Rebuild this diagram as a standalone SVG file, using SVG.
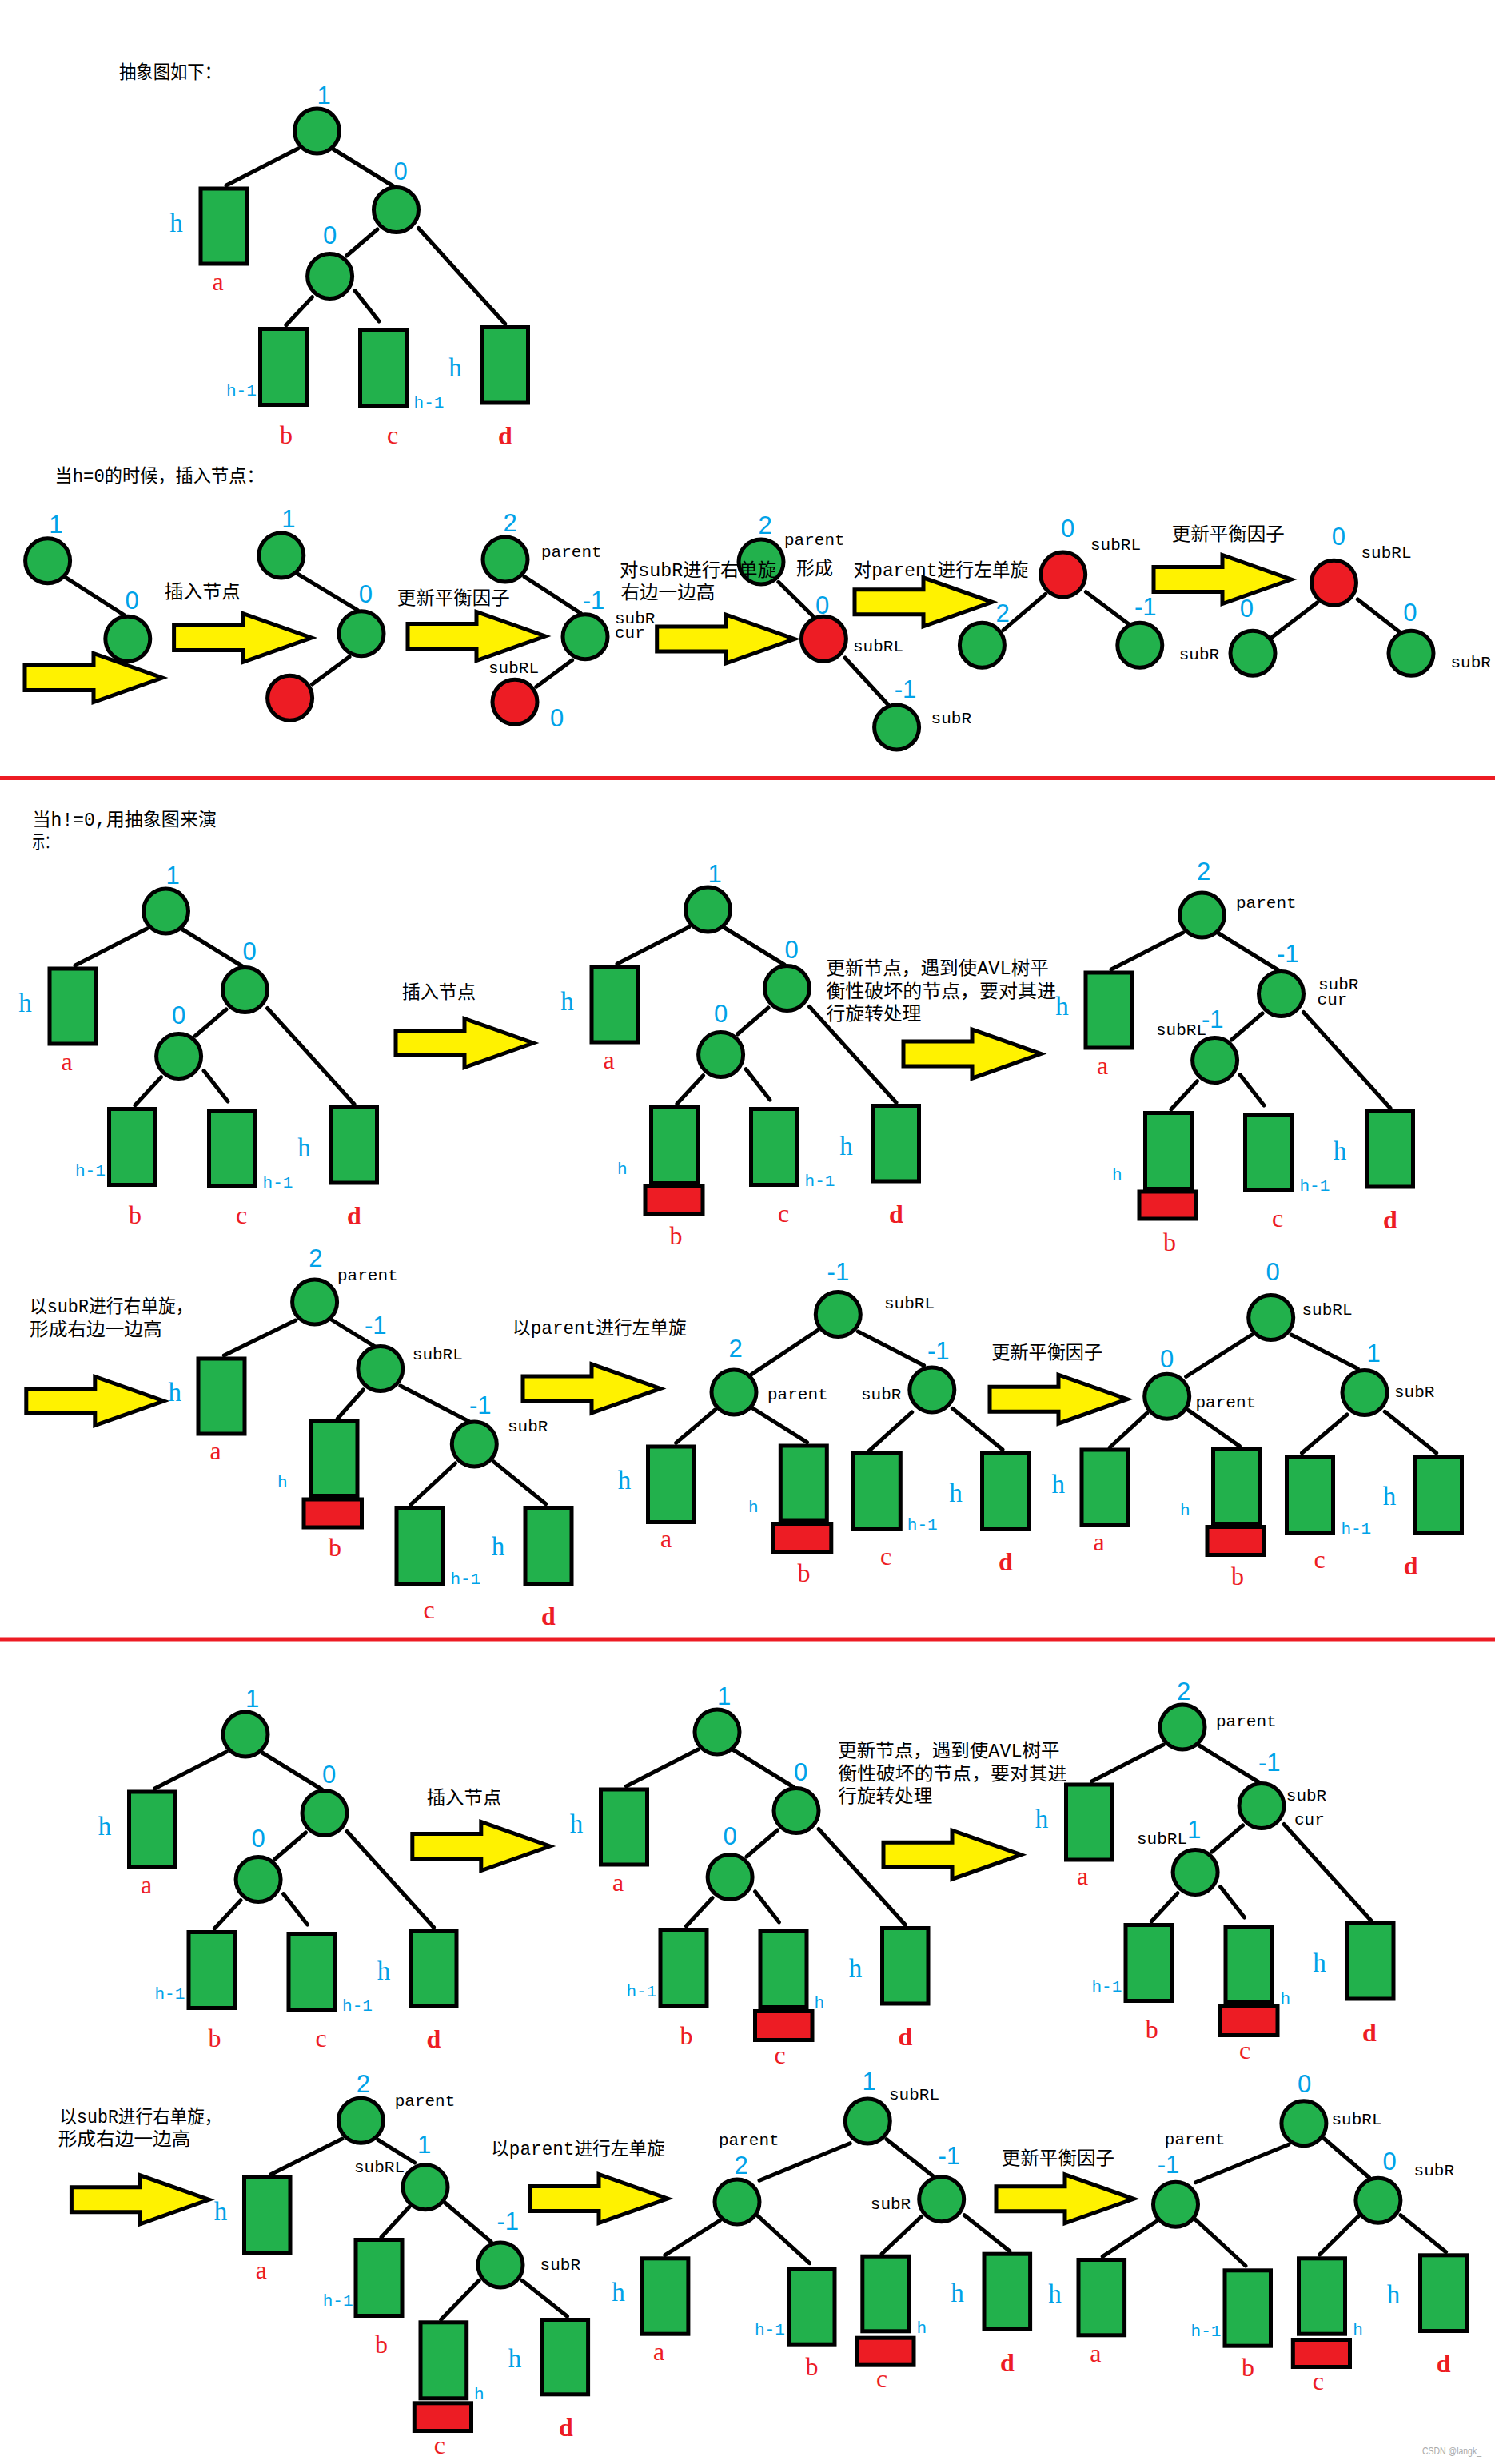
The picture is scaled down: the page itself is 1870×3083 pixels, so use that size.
<svg xmlns="http://www.w3.org/2000/svg" xmlns:xlink="http://www.w3.org/1999/xlink" width="1870" height="3083" viewBox="0 0 1870 3083">
<style>
.nd{fill:#22B14C;stroke:#000;stroke-width:5}
.nr{fill:#ED1C24;stroke:#000;stroke-width:5}
.bx{fill:#22B14C;stroke:#000;stroke-width:5}
.rb{fill:#ED1C24;stroke:#000;stroke-width:5}
.ed line{stroke:#000;stroke-width:5;stroke-linecap:round}
.ar{fill:#FFF200;stroke:#000;stroke-width:5}
.num{font-family:"Liberation Sans",sans-serif;font-size:31px;fill:#00A2E8;text-anchor:middle}
.nums{font-family:"Liberation Sans",sans-serif;font-size:31px;fill:#00A2E8}
.hb{font-family:"Liberation Serif",serif;font-size:33px;fill:#00A2E8;text-anchor:middle}
.hs{font-family:"Liberation Mono",monospace;font-size:21px;fill:#00A2E8}
.lt{font-family:"Liberation Serif",serif;font-size:32px;fill:#ED1C24;text-anchor:middle}
.ld{font-family:"Liberation Serif",serif;font-size:32px;font-weight:bold;fill:#ED1C24;text-anchor:middle}
.lb{font-family:"Liberation Mono",monospace;font-size:21px;fill:#000}
.cn{font-family:"Liberation Mono","Noto Sans CJK SC",monospace;font-size:23px;fill:#000}
.wm{font-family:"Liberation Sans",sans-serif;font-size:12px;fill:#aaa}
</style>
<defs>
<path id="arrow" class="ar" d="M0,-15.5 H86 V-30.5 L172,0 L86,30.5 V15.5 H0 Z"/>
</defs>
<rect width="1870" height="3083" fill="#fff"/>

<!-- separators -->
<g id="separators">
<rect x="0" y="971" width="1870" height="5" fill="#ED1C24"/>
<rect x="0" y="2048.5" width="1870" height="5" fill="#ED1C24"/>
</g>

<!-- ================= CONNECTORS ================= -->
<g id="connectors" class="ed">
 <g id="e-s1" transform="translate(0,0)">
  <line x1="372.7" y1="186" x2="283" y2="232"/><line x1="417.4" y1="187" x2="492" y2="233"/><line x1="472" y1="287" x2="433.5" y2="320"/><line x1="523.5" y1="285.5" x2="632" y2="405.5"/><line x1="390.6" y1="371.6" x2="357.8" y2="407"/><line x1="444" y1="363.6" x2="474" y2="402"/>
 </g>
 <g id="e-s3t1" transform="translate(-189,976)">
  <line x1="372.7" y1="186" x2="283" y2="232"/><line x1="417.4" y1="187" x2="492" y2="233"/><line x1="472" y1="287" x2="433.5" y2="320"/><line x1="523.5" y1="285.5" x2="632" y2="405.5"/><line x1="390.6" y1="371.6" x2="357.8" y2="407"/><line x1="444" y1="363.6" x2="474" y2="402"/>
 </g>
 <g id="e-s3t2" transform="translate(489,974)">
  <line x1="372.7" y1="186" x2="283" y2="232"/><line x1="417.4" y1="187" x2="492" y2="233"/><line x1="472" y1="287" x2="433.5" y2="320"/><line x1="523.5" y1="285.5" x2="632" y2="405.5"/><line x1="390.6" y1="371.6" x2="357.8" y2="407"/><line x1="444" y1="363.6" x2="474" y2="402"/>
 </g>
 <g id="e-s3t3" transform="translate(1107,981)">
  <line x1="372.7" y1="186" x2="283" y2="232"/><line x1="417.4" y1="187" x2="492" y2="233"/><line x1="472" y1="287" x2="433.5" y2="320"/><line x1="523.5" y1="285.5" x2="632" y2="405.5"/><line x1="390.6" y1="371.6" x2="357.8" y2="407"/><line x1="444" y1="363.6" x2="474" y2="402"/>
 </g>
 <g id="e-s4t1" transform="translate(-89.5,2006)">
  <line x1="372.7" y1="186" x2="283" y2="232"/><line x1="417.4" y1="187" x2="492" y2="233"/><line x1="472" y1="287" x2="433.5" y2="320"/><line x1="523.5" y1="285.5" x2="632" y2="405.5"/><line x1="390.6" y1="371.6" x2="357.8" y2="407"/><line x1="444" y1="363.6" x2="474" y2="402"/>
 </g>
 <g id="e-s4t2" transform="translate(500.5,2003)">
  <line x1="372.7" y1="186" x2="283" y2="232"/><line x1="417.4" y1="187" x2="492" y2="233"/><line x1="472" y1="287" x2="433.5" y2="320"/><line x1="523.5" y1="285.5" x2="632" y2="405.5"/><line x1="390.6" y1="371.6" x2="357.8" y2="407"/><line x1="444" y1="363.6" x2="474" y2="402"/>
 </g>
 <g id="e-s4t3" transform="translate(1082.5,1997)">
  <line x1="372.7" y1="186" x2="283" y2="232"/><line x1="417.4" y1="187" x2="492" y2="233"/><line x1="472" y1="287" x2="433.5" y2="320"/><line x1="523.5" y1="285.5" x2="632" y2="405.5"/><line x1="390.6" y1="371.6" x2="357.8" y2="407"/><line x1="444" y1="363.6" x2="474" y2="402"/>
 </g>
 <g id="e-s2">
  <line x1="80.5" y1="721.7" x2="156" y2="770"/>
  <line x1="372.7" y1="718.3" x2="447.2" y2="763.3"/><line x1="437" y1="821.7" x2="390.6" y2="856"/>
  <line x1="656" y1="721.7" x2="726.3" y2="767.3"/><line x1="715.6" y1="826" x2="670.8" y2="859.3"/>
  <line x1="973.8" y1="728.3" x2="1016.7" y2="770.7"/><line x1="1057" y1="823" x2="1111" y2="881.7"/>
  <line x1="1307.7" y1="743.3" x2="1255" y2="788.3"/><line x1="1358.4" y1="740.7" x2="1415" y2="783.3"/>
  <line x1="1647.6" y1="754" x2="1591" y2="797.3"/><line x1="1698.3" y1="750" x2="1752" y2="791.7"/>
 </g>
 <g id="e-s3t4">
  <line x1="369.7" y1="1652" x2="280.3" y2="1696"/><line x1="414.4" y1="1651" x2="468" y2="1684.3"/><line x1="454.4" y1="1739" x2="422.2" y2="1775"/><line x1="500.9" y1="1734" x2="587.4" y2="1778.9"/><line x1="569.5" y1="1831" x2="514" y2="1882.3"/><line x1="617.2" y1="1828.6" x2="682.8" y2="1881.7"/>
 </g>
 <g id="e-s3t5">
  <line x1="1023" y1="1664.4" x2="939.8" y2="1719.8"/><line x1="1073.3" y1="1666" x2="1155.6" y2="1708.5"/><line x1="894.5" y1="1764" x2="845.6" y2="1805.4"/><line x1="942" y1="1762.3" x2="1009.5" y2="1804.7"/><line x1="1140.7" y1="1767" x2="1087" y2="1815.3"/><line x1="1191.4" y1="1762.3" x2="1254" y2="1813.7"/>
 </g>
 <g id="e-s3t6">
  <line x1="1566" y1="1670" x2="1483.6" y2="1722.5"/><line x1="1615" y1="1670" x2="1698.3" y2="1712.5"/><line x1="1434.7" y1="1768.2" x2="1388.2" y2="1811"/><line x1="1486.6" y1="1764.6" x2="1550.4" y2="1809.4"/><line x1="1685" y1="1770" x2="1628.5" y2="1818"/><line x1="1732.3" y1="1766.3" x2="1796.7" y2="1818"/>
 </g>
 <g id="e-s4t4">
  <line x1="428" y1="2676" x2="338.7" y2="2720.7"/><line x1="472.9" y1="2677.3" x2="518.8" y2="2706"/><line x1="511.6" y1="2761.7" x2="477" y2="2799.3"/><line x1="556.4" y1="2756" x2="614.2" y2="2805"/><line x1="599.3" y1="2853.3" x2="551.6" y2="2902.3"/><line x1="653" y1="2853.3" x2="709.6" y2="2898.3"/>
 </g>
 <g id="e-s4t5">
  <line x1="1063.2" y1="2681.7" x2="950" y2="2728.3"/><line x1="1109" y1="2676.7" x2="1167.6" y2="2723.3"/><line x1="900.4" y1="2778.3" x2="831.8" y2="2821.7"/><line x1="948" y1="2772.7" x2="1012.5" y2="2831.7"/><line x1="1152.6" y1="2773.3" x2="1103" y2="2820"/><line x1="1206.3" y1="2771.7" x2="1263" y2="2816.7"/>
 </g>
 <g id="e-s4t6">
  <line x1="1611.8" y1="2683.3" x2="1495.5" y2="2730.7"/><line x1="1656.5" y1="2676" x2="1713" y2="2725"/><line x1="1446.6" y1="2779.3" x2="1379.2" y2="2823.3"/><line x1="1495.5" y1="2777.3" x2="1558" y2="2835"/><line x1="1699.5" y1="2772.7" x2="1650.6" y2="2821"/><line x1="1752" y1="2771.7" x2="1808.6" y2="2817.7"/>
 </g>
</g>

<!-- ================= SECTION 1 ================= -->
<text class="cn" x="149" y="98" textLength="128" lengthAdjust="spacingAndGlyphs">抽象图如下：</text>
<g id="s1" transform="translate(0,0)">
 <g id="s1-root"><circle class="nd" cx="396.5" cy="164" r="28"/></g>
 <g id="s1-right"><circle class="nd" cx="495.5" cy="262.5" r="28"/></g>
 <g id="s1-rl"><circle class="nd" cx="412.6" cy="345.5" r="28"/></g>
 <g id="s1-a"><rect class="bx" x="251" y="236" width="58" height="94"/></g>
 <g id="s1-b"><rect class="bx" x="325.5" y="411.5" width="58" height="95"/></g>
 <g id="s1-c"><rect class="bx" x="450.5" y="413.5" width="58" height="95"/></g>
 <g id="s1-d"><rect class="bx" x="603" y="409.5" width="57.5" height="94.5"/></g>
 <text class="num" x="405" y="130">1</text><text class="num" x="501" y="225">0</text><text class="num" x="412.6" y="305">0</text>
 <text class="hb" x="220.6" y="290">h</text><text class="lt" x="272.5" y="362.5">a</text>
 <text class="hs" x="283" y="495">h-1</text><text class="hs" x="517.6" y="510">h-1</text><text class="hb" x="569.5" y="471">h</text>
 <text class="lt" x="358" y="554.5">b</text><text class="lt" x="491" y="554.5">c</text><text class="ld" x="632" y="556">d</text>
</g>

<!-- ================= SECTION 2 ================= -->
<text class="cn" x="68.6" y="603" textLength="262" lengthAdjust="spacingAndGlyphs">当h=0的时候，插入节点：</text>
<g id="s2">
 <g id="s2A-n1"><circle class="nd" cx="59.6" cy="701.7" r="28"/></g>
 <g id="s2A-n2"><circle class="nd" cx="159.8" cy="799.3" r="28"/></g>
 <g id="s2B-n1"><circle class="nd" cx="351.8" cy="695" r="28"/></g>
 <g id="s2B-n2"><circle class="nd" cx="452" cy="792.7" r="28"/></g>
 <g id="s2B-n3"><circle class="nr" cx="362.6" cy="873.3" r="28"/></g>
 <g id="s2C-parent"><circle class="nd" cx="632" cy="700" r="28"/></g>
 <g id="s2C-subR"><circle class="nd" cx="732" cy="796.7" r="28"/></g>
 <g id="s2C-subRL"><circle class="nr" cx="644" cy="878.3" r="28"/></g>
 <g id="s2D-parent"><circle class="nd" cx="952" cy="703" r="28"/></g>
 <g id="s2D-subRL"><circle class="nr" cx="1030.4" cy="799.3" r="28"/></g>
 <g id="s2D-subR"><circle class="nd" cx="1121.6" cy="910" r="28"/></g>
 <g id="s2E-subRL"><circle class="nr" cx="1329.7" cy="719" r="28"/></g>
 <g id="s2E-left"><circle class="nd" cx="1228.4" cy="807.3" r="28"/></g>
 <g id="s2E-right"><circle class="nd" cx="1425.8" cy="807.3" r="28"/></g>
 <g id="s2F-subRL"><circle class="nr" cx="1668.5" cy="729.3" r="28"/></g>
 <g id="s2F-left"><circle class="nd" cx="1567" cy="817.3" r="28"/></g>
 <g id="s2F-right"><circle class="nd" cx="1765" cy="817.3" r="28"/></g>
</g>

<!-- ================= SECTION 3 ================= -->
<text class="cn" x="40.5" y="1033" textLength="230.5" lengthAdjust="spacingAndGlyphs">当h!=0,用抽象图来演</text>
<text class="cn" x="40.5" y="1060.5" textLength="31" lengthAdjust="spacingAndGlyphs">示：</text>

<g id="s3t1" transform="translate(-189,976)">
 <g id="s3t1-root"><circle class="nd" cx="396.5" cy="164" r="28"/></g>
 <g id="s3t1-right"><circle class="nd" cx="495.5" cy="262.5" r="28"/></g>
 <g id="s3t1-rl"><circle class="nd" cx="412.6" cy="345.5" r="28"/></g>
 <g id="s3t1-a"><rect class="bx" x="251" y="236" width="58" height="94"/></g>
 <g id="s3t1-b"><rect class="bx" x="325.5" y="411.5" width="58" height="95"/></g>
 <g id="s3t1-c"><rect class="bx" x="450.5" y="413.5" width="58" height="95"/></g>
 <g id="s3t1-d"><rect class="bx" x="603" y="409.5" width="57.5" height="94.5"/></g>
 <text class="num" x="405" y="130">1</text><text class="num" x="501" y="225">0</text><text class="num" x="412.6" y="305">0</text>
 <text class="hb" x="220.6" y="290">h</text><text class="lt" x="272.5" y="362.5">a</text>
 <text class="hs" x="283" y="495">h-1</text><text class="hs" x="517.6" y="510">h-1</text><text class="hb" x="569.5" y="471">h</text>
 <text class="lt" x="358" y="554.5">b</text><text class="lt" x="491" y="554.5">c</text><text class="ld" x="632" y="556">d</text>
</g>

<g id="s3t2" transform="translate(489,974)">
 <g id="s3t2-root"><circle class="nd" cx="396.5" cy="164" r="28"/></g>
 <g id="s3t2-right"><circle class="nd" cx="495.5" cy="262.5" r="28"/></g>
 <g id="s3t2-rl"><circle class="nd" cx="412.6" cy="345.5" r="28"/></g>
 <g id="s3t2-a"><rect class="bx" x="251" y="236" width="58" height="94"/></g>
 <g id="s3t2-b"><rect class="bx" x="325.5" y="411.5" width="58" height="95"/></g>
 <g id="s3t2-new"><rect class="rb" x="318" y="510.5" width="72" height="34"/></g>
 <g id="s3t2-c"><rect class="bx" x="450.5" y="413.5" width="58" height="95"/></g>
 <g id="s3t2-d"><rect class="bx" x="603" y="409.5" width="57.5" height="94.5"/></g>
 <text class="num" x="405" y="130">1</text><text class="num" x="501" y="225">0</text><text class="num" x="412.6" y="305">0</text>
 <text class="hb" x="220.6" y="290">h</text><text class="lt" x="272.5" y="362.5">a</text>
 <text class="hs" x="283" y="494.6">h</text><text class="hs" x="517.6" y="510">h-1</text><text class="hb" x="569.5" y="471">h</text>
 <text class="lt" x="356.5" y="583">b</text><text class="lt" x="491" y="554.5">c</text><text class="ld" x="632" y="556">d</text>
</g>

<g id="s3t3" transform="translate(1107,981)">
 <g id="s3t3-parent"><circle class="nd" cx="396.5" cy="164" r="28"/></g>
 <g id="s3t3-subR"><circle class="nd" cx="495.5" cy="262.5" r="28"/></g>
 <g id="s3t3-subRL"><circle class="nd" cx="412.6" cy="345.5" r="28"/></g>
 <g id="s3t3-a"><rect class="bx" x="251" y="236" width="58" height="94"/></g>
 <g id="s3t3-b"><rect class="bx" x="325.5" y="411.5" width="58" height="95"/></g>
 <g id="s3t3-new"><rect class="rb" x="318" y="510" width="71" height="34"/></g>
 <g id="s3t3-c"><rect class="bx" x="450.5" y="413.5" width="58" height="95"/></g>
 <g id="s3t3-d"><rect class="bx" x="603" y="409.5" width="57.5" height="94.5"/></g>
 <text class="num" x="398.7" y="120.4">2</text>
 <text class="lb" x="439" y="155.4">parent</text>
 <text class="nums" x="490" y="223">-1</text>
 <text class="lb" x="542" y="257">subR</text><text class="lb" x="540.6" y="276">cur</text>
 <text class="lb" x="339" y="314.4">subRL</text><text class="nums" x="396" y="305.4">-1</text>
 <text class="hb" x="221.6" y="289">h</text><text class="lt" x="272" y="362.6">a</text>
 <text class="hs" x="284" y="494.7">h</text><text class="hs" x="518.5" y="509">h-1</text><text class="hb" x="569" y="470.4">h</text>
 <text class="lt" x="356" y="584">b</text><text class="lt" x="491" y="554">c</text><text class="ld" x="631.8" y="556">d</text>
</g>

<g id="s3t4">
 <g id="s3t4-parent"><circle class="nd" cx="393.6" cy="1629" r="28"/></g>
 <g id="s3t4-subRL"><circle class="nd" cx="475.8" cy="1712.5" r="28"/></g>
 <g id="s3t4-subR"><circle class="nd" cx="593.3" cy="1807" r="28"/></g>
 <g id="s3t4-a"><rect class="bx" x="248" y="1700" width="58" height="94"/></g>
 <g id="s3t4-b"><rect class="bx" x="389" y="1778.5" width="58" height="93"/></g>
 <g id="s3t4-new"><rect class="rb" x="380" y="1876" width="72.5" height="35"/></g>
 <g id="s3t4-c"><rect class="bx" x="496" y="1886.5" width="58" height="95"/></g>
 <g id="s3t4-d"><rect class="bx" x="657" y="1886.5" width="58" height="95"/></g>
 <text class="num" x="394.8" y="1584.8">2</text><text class="lb" x="422" y="1602">parent</text>
 <text class="nums" x="456" y="1669.4">-1</text><text class="lb" x="515.8" y="1701">subRL</text>
 <text class="nums" x="587" y="1769">-1</text><text class="lb" x="635" y="1790.5">subR</text>
 <text class="hb" x="218.8" y="1753">h</text><text class="lt" x="269.5" y="1826">a</text>
 <text class="hs" x="347" y="1861">h</text><text class="lt" x="419" y="1947">b</text>
 <text class="hs" x="563.5" y="1982">h-1</text><text class="lt" x="536.7" y="2025.3">c</text>
 <text class="hb" x="623" y="1946">h</text><text class="ld" x="685.8" y="2032.6">d</text>
</g>

<g id="s3t5">
 <g id="s3t5-subRL"><circle class="nd" cx="1048.3" cy="1644.5" r="28"/></g>
 <g id="s3t5-parent"><circle class="nd" cx="918" cy="1742" r="28"/></g>
 <g id="s3t5-subR"><circle class="nd" cx="1165.8" cy="1739" r="28"/></g>
 <g id="s3t5-a"><rect class="bx" x="810.5" y="1810" width="58" height="94.5"/></g>
 <g id="s3t5-b"><rect class="bx" x="976.3" y="1809" width="58" height="93"/></g>
 <g id="s3t5-new"><rect class="rb" x="967.3" y="1906.5" width="72.5" height="35.7"/></g>
 <g id="s3t5-c"><rect class="bx" x="1067.5" y="1818.5" width="58.8" height="95"/></g>
 <g id="s3t5-d"><rect class="bx" x="1228.5" y="1818.5" width="59" height="95"/></g>
 <text class="nums" x="1034.6" y="1602">-1</text><text class="lb" x="1106" y="1637">subRL</text>
 <text class="num" x="920" y="1697.6">2</text><text class="lb" x="960" y="1750.7">parent</text>
 <text class="nums" x="1160" y="1701">-1</text><text class="lb" x="1077" y="1750.7">subR</text>
 <text class="hb" x="781" y="1863.4">h</text><text class="lt" x="833" y="1936.4">a</text>
 <text class="hs" x="936" y="1891.6">h</text><text class="lt" x="1005.4" y="1978.5">b</text>
 <text class="hs" x="1134.8" y="1914">h-1</text><text class="lt" x="1108" y="1958">c</text>
 <text class="hb" x="1195.6" y="1879">h</text><text class="ld" x="1258" y="1965">d</text>
</g>

<g id="s3t6">
 <g id="s3t6-subRL"><circle class="nd" cx="1589.7" cy="1648.5" r="28"/></g>
 <g id="s3t6-parent"><circle class="nd" cx="1459.7" cy="1747.3" r="28"/></g>
 <g id="s3t6-subR"><circle class="nd" cx="1707" cy="1742.4" r="28"/></g>
 <g id="s3t6-a"><rect class="bx" x="1353" y="1814" width="58" height="94.5"/></g>
 <g id="s3t6-b"><rect class="bx" x="1517.5" y="1813.5" width="58" height="93"/></g>
 <g id="s3t6-new"><rect class="rb" x="1510" y="1910.5" width="71.3" height="35"/></g>
 <g id="s3t6-c"><rect class="bx" x="1609.5" y="1822.8" width="58" height="94.7"/></g>
 <g id="s3t6-d"><rect class="bx" x="1770.5" y="1822.5" width="58" height="95"/></g>
 <text class="num" x="1592" y="1602.4">0</text><text class="lb" x="1628.5" y="1644.5">subRL</text>
 <text class="num" x="1459.7" y="1710.9">0</text><text class="lb" x="1495.5" y="1760.6">parent</text>
 <text class="num" x="1718" y="1704">1</text><text class="lb" x="1744" y="1748">subR</text>
 <text class="hb" x="1323.8" y="1867.7">h</text><text class="lt" x="1374.5" y="1940.4">a</text>
 <text class="hs" x="1476" y="1895.6">h</text><text class="lt" x="1548" y="1982.8">b</text>
 <text class="hs" x="1677.4" y="1918.8">h-1</text><text class="lt" x="1650.6" y="1962">c</text>
 <text class="hb" x="1738" y="1883">h</text><text class="ld" x="1764.6" y="1969.6">d</text>
</g>

<!-- ================= SECTION 4 ================= -->
<g id="s4t1" transform="translate(-89.5,2006)">
 <g id="s4t1-root"><circle class="nd" cx="396.5" cy="164" r="28"/></g>
 <g id="s4t1-right"><circle class="nd" cx="495.5" cy="262.5" r="28"/></g>
 <g id="s4t1-rl"><circle class="nd" cx="412.6" cy="345.5" r="28"/></g>
 <g id="s4t1-a"><rect class="bx" x="251" y="236" width="58" height="94"/></g>
 <g id="s4t1-b"><rect class="bx" x="325.5" y="411.5" width="58" height="95"/></g>
 <g id="s4t1-c"><rect class="bx" x="450.5" y="413.5" width="58" height="95"/></g>
 <g id="s4t1-d"><rect class="bx" x="603" y="409.5" width="57.5" height="94.5"/></g>
 <text class="num" x="405" y="130">1</text><text class="num" x="501" y="225">0</text><text class="num" x="412.6" y="305">0</text>
 <text class="hb" x="220.6" y="290">h</text><text class="lt" x="272.5" y="362.5">a</text>
 <text class="hs" x="283" y="495">h-1</text><text class="hs" x="517.6" y="510">h-1</text><text class="hb" x="569.5" y="471">h</text>
 <text class="lt" x="358" y="554.5">b</text><text class="lt" x="491" y="554.5">c</text><text class="ld" x="632" y="556">d</text>
</g>

<g id="s4t2" transform="translate(500.5,2003)">
 <g id="s4t2-root"><circle class="nd" cx="396.5" cy="164" r="28"/></g>
 <g id="s4t2-right"><circle class="nd" cx="495.5" cy="262.5" r="28"/></g>
 <g id="s4t2-rl"><circle class="nd" cx="412.6" cy="345.5" r="28"/></g>
 <g id="s4t2-a"><rect class="bx" x="251" y="236" width="58" height="94"/></g>
 <g id="s4t2-b"><rect class="bx" x="325.5" y="411.5" width="58" height="95"/></g>
 <g id="s4t2-c"><rect class="bx" x="450.5" y="413.5" width="58" height="95"/></g>
 <g id="s4t2-new"><rect class="rb" x="444" y="513.5" width="71.5" height="36"/></g>
 <g id="s4t2-d"><rect class="bx" x="603" y="409.5" width="57.5" height="94.5"/></g>
 <text class="num" x="405" y="130">1</text><text class="num" x="501" y="225">0</text><text class="num" x="412.6" y="305">0</text>
 <text class="hb" x="220.6" y="290">h</text><text class="lt" x="272.5" y="362.5">a</text>
 <text class="hs" x="283" y="495">h-1</text><text class="hs" x="518" y="508.7">h</text><text class="hb" x="569.5" y="471">h</text>
 <text class="lt" x="358" y="554.5">b</text><text class="lt" x="475" y="578.7">c</text><text class="ld" x="632" y="556">d</text>
</g>

<g id="s4t3" transform="translate(1082.5,1997)">
 <g id="s4t3-parent"><circle class="nd" cx="396.5" cy="164" r="28"/></g>
 <g id="s4t3-subR"><circle class="nd" cx="495.5" cy="262.5" r="28"/></g>
 <g id="s4t3-subRL"><circle class="nd" cx="412.6" cy="345.5" r="28"/></g>
 <g id="s4t3-a"><rect class="bx" x="251" y="236" width="58" height="94"/></g>
 <g id="s4t3-b"><rect class="bx" x="325.5" y="411.5" width="58" height="95"/></g>
 <g id="s4t3-c"><rect class="bx" x="450.5" y="413.5" width="58" height="95"/></g>
 <g id="s4t3-new"><rect class="rb" x="444" y="513.5" width="71.5" height="36"/></g>
 <g id="s4t3-d"><rect class="bx" x="603" y="409.5" width="57.5" height="94.5"/></g>
 <text class="num" x="398" y="129.7">2</text><text class="lb" x="438.5" y="163">parent</text>
 <text class="nums" x="491.5" y="219">-1</text>
 <text class="lb" x="526.3" y="255.7">subR</text><text class="lb" x="536.5" y="285.7">cur</text>
 <text class="lb" x="339.5" y="310.3">subRL</text><text class="num" x="411.2" y="303">1</text>
 <text class="hb" x="220.5" y="289.7">h</text><text class="lt" x="271.5" y="361">a</text>
 <text class="hs" x="283" y="494.7">h-1</text><text class="hs" x="519" y="509.7">h</text><text class="hb" x="568" y="470.3">h</text>
 <text class="lt" x="358.2" y="553">b</text><text class="lt" x="474.5" y="579">c</text><text class="ld" x="630.5" y="557">d</text>
</g>

<g id="s4t4">
 <g id="s4t4-parent"><circle class="nd" cx="451.4" cy="2653.3" r="28"/></g>
 <g id="s4t4-subRL"><circle class="nd" cx="532" cy="2736.7" r="28"/></g>
 <g id="s4t4-subR"><circle class="nd" cx="626" cy="2834" r="28"/></g>
 <g id="s4t4-a"><rect class="bx" x="305.5" y="2724.2" width="57.5" height="95"/></g>
 <g id="s4t4-b"><rect class="bx" x="445" y="2802.5" width="58" height="95"/></g>
 <g id="s4t4-c"><rect class="bx" x="526" y="2905.8" width="57.7" height="95"/></g>
 <g id="s4t4-new"><rect class="rb" x="518.3" y="3006.8" width="71.2" height="34.7"/></g>
 <g id="s4t4-d"><rect class="bx" x="678" y="2902.5" width="57.6" height="93.3"/></g>
 <text class="num" x="454.4" y="2618.3">2</text><text class="lb" x="493.7" y="2635">parent</text>
 <text class="num" x="530.7" y="2694.3">1</text><text class="lb" x="443" y="2717.7">subRL</text>
 <text class="nums" x="621.4" y="2790">-1</text><text class="lb" x="675.6" y="2840">subR</text>
 <text class="hb" x="276" y="2777.7">h</text><text class="lt" x="326.8" y="2851">a</text>
 <text class="hs" x="403.7" y="2885">h-1</text><text class="lt" x="477" y="2944.3">b</text>
 <text class="hs" x="593" y="3001.7">h</text><text class="lt" x="549.8" y="3070">c</text>
 <text class="hb" x="644" y="2961.7">h</text><text class="ld" x="707.8" y="3048.3">d</text>
</g>

<g id="s4t5">
 <g id="s4t5-subRL"><circle class="nd" cx="1085.3" cy="2654" r="28"/></g>
 <g id="s4t5-parent"><circle class="nd" cx="922" cy="2755" r="28"/></g>
 <g id="s4t5-subR"><circle class="nd" cx="1177.7" cy="2751.7" r="28"/></g>
 <g id="s4t5-a"><rect class="bx" x="803.3" y="2825.8" width="57.6" height="94.4"/></g>
 <g id="s4t5-b"><rect class="bx" x="986.5" y="2839.2" width="57.5" height="94"/></g>
 <g id="s4t5-c"><rect class="bx" x="1078.8" y="2823.2" width="58.2" height="93.6"/></g>
 <g id="s4t5-new"><rect class="rb" x="1071.5" y="2925.2" width="71.5" height="34"/></g>
 <g id="s4t5-d"><rect class="bx" x="1231" y="2820.2" width="57.6" height="94"/></g>
 <text class="num" x="1087" y="2615">1</text><text class="lb" x="1112" y="2627.3">subRL</text>
 <text class="num" x="927" y="2720">2</text><text class="lb" x="899" y="2684">parent</text>
 <text class="nums" x="1173.5" y="2708.3">-1</text><text class="lb" x="1088.8" y="2764">subR</text>
 <text class="hb" x="773.4" y="2879.3">h</text><text class="lt" x="824" y="2953.3">a</text>
 <text class="hs" x="944" y="2921">h-1</text><text class="lt" x="1015.5" y="2971.7">b</text>
 <text class="hs" x="1146.6" y="2919.3">h</text><text class="lt" x="1103" y="2987.3">c</text>
 <text class="hb" x="1197.4" y="2880">h</text><text class="ld" x="1260" y="2966.7">d</text>
</g>

<g id="s4t6">
 <g id="s4t6-subRL"><circle class="nd" cx="1630.9" cy="2656.7" r="28"/></g>
 <g id="s4t6-parent"><circle class="nd" cx="1470.5" cy="2758.3" r="28"/></g>
 <g id="s4t6-subR"><circle class="nd" cx="1723.9" cy="2753.3" r="28"/></g>
 <g id="s4t6-a"><rect class="bx" x="1349" y="2827.5" width="57.6" height="94.3"/></g>
 <g id="s4t6-b"><rect class="bx" x="1532" y="2840.8" width="57.5" height="94.4"/></g>
 <g id="s4t6-c"><rect class="bx" x="1624.5" y="2825.8" width="58" height="94.4"/></g>
 <g id="s4t6-new"><rect class="rb" x="1617.3" y="2927.5" width="71.2" height="34"/></g>
 <g id="s4t6-d"><rect class="bx" x="1776.5" y="2821.8" width="58" height="94.7"/></g>
 <text class="num" x="1631.5" y="2618.3">0</text><text class="lb" x="1665.5" y="2658.3">subRL</text>
 <text class="nums" x="1447.8" y="2719.3">-1</text><text class="lb" x="1456.8" y="2683.3">parent</text>
 <text class="num" x="1738.2" y="2715">0</text><text class="lb" x="1768.6" y="2721.7">subR</text>
 <text class="hb" x="1319.6" y="2880.7">h</text><text class="lt" x="1370.3" y="2955">a</text>
 <text class="hs" x="1489.6" y="2923.3">h-1</text><text class="lt" x="1561" y="2973.3">b</text>
 <text class="hs" x="1692.3" y="2920.7">h</text><text class="lt" x="1648.8" y="2990">c</text>
 <text class="hb" x="1743" y="2882.3">h</text><text class="ld" x="1805.6" y="2968.3">d</text>
</g>

<!-- ================= ARROWS ================= -->
<g id="arrows">
 <use xlink:href="#arrow" transform="translate(31,848)"/>
 <use xlink:href="#arrow" transform="translate(217.6,798)"/>
 <use xlink:href="#arrow" transform="translate(510,796)"/>
 <use xlink:href="#arrow" transform="translate(821.7,799.5)"/>
 <use xlink:href="#arrow" transform="translate(1069,753.3)"/>
 <use xlink:href="#arrow" transform="translate(1443,725)"/>
 <use xlink:href="#arrow" transform="translate(495,1305)"/>
 <use xlink:href="#arrow" transform="translate(1130,1318.6)"/>
 <use xlink:href="#arrow" transform="translate(32.8,1753)"/>
 <use xlink:href="#arrow" transform="translate(654,1737.4)"/>
 <use xlink:href="#arrow" transform="translate(1238,1750.7)"/>
 <use xlink:href="#arrow" transform="translate(515.8,2310)"/>
 <use xlink:href="#arrow" transform="translate(1105,2320.7)"/>
 <use xlink:href="#arrow" transform="translate(89.4,2752.3)"/>
 <use xlink:href="#arrow" transform="translate(663,2751)"/>
 <use xlink:href="#arrow" transform="translate(1246,2751.3)"/>
</g>

<!-- ================= SECTION 2 LABELS ================= -->
<g id="s2-labels">
 <text class="num" x="69.8" y="666.7">1</text><text class="num" x="165" y="761.7">0</text>
 <text class="num" x="360.8" y="660">1</text><text class="num" x="457.4" y="754">0</text>
 <text class="num" x="638" y="665">2</text><text class="lb" x="677" y="697">parent</text>
 <text class="nums" x="728.7" y="762">-1</text><text class="lb" x="769" y="780">subR</text><text class="lb" x="769" y="798">cur</text>
 <text class="lb" x="611" y="841.7">subRL</text><text class="num" x="696.5" y="909.3">0</text>
 <text class="num" x="957" y="668">2</text><text class="lb" x="981" y="681.7">parent</text>
 <text class="num" x="1028.6" y="768">0</text><text class="lb" x="1067" y="815">subRL</text>
 <text class="nums" x="1118.7" y="873">-1</text><text class="lb" x="1164.6" y="905">subR</text>
 <text class="num" x="1335.7" y="671.7">0</text><text class="lb" x="1364" y="688.3">subRL</text>
 <text class="num" x="1254" y="778">2</text><text class="nums" x="1419" y="770">-1</text>
 <text class="num" x="1674.4" y="681.7">0</text><text class="lb" x="1702.5" y="698">subRL</text>
 <text class="num" x="1559.3" y="771.7">0</text><text class="lb" x="1474.7" y="825">subR</text>
 <text class="num" x="1763.9" y="777">0</text><text class="lb" x="1814.5" y="835">subR</text>
</g>

<!-- ================= ANNOTATIONS ================= -->
<g id="annotations">
 <text class="cn" x="205.7" y="748" textLength="95" lengthAdjust="spacingAndGlyphs">插入节点</text>
 <text class="cn" x="496.7" y="756" textLength="141" lengthAdjust="spacingAndGlyphs">更新平衡因子</text>
 <text class="cn" x="775" y="721" textLength="196" lengthAdjust="spacingAndGlyphs">对subR进行右单旋</text>
 <text class="cn" x="996" y="719" textLength="46" lengthAdjust="spacingAndGlyphs">形成</text>
 <text class="cn" x="776.4" y="749" textLength="118" lengthAdjust="spacingAndGlyphs">右边一边高</text>
 <text class="cn" x="1067.4" y="721" textLength="219" lengthAdjust="spacingAndGlyphs">对parent进行左单旋</text>
 <text class="cn" x="1465.7" y="676" textLength="141" lengthAdjust="spacingAndGlyphs">更新平衡因子</text>

 <text class="cn" x="502.7" y="1249" textLength="92.3" lengthAdjust="spacingAndGlyphs">插入节点</text>
 <text class="cn" x="1033.4" y="1219" textLength="278.5" lengthAdjust="spacingAndGlyphs">更新节点，遇到使AVL树平</text>
 <text class="cn" x="1033.4" y="1247.5" textLength="287.5" lengthAdjust="spacingAndGlyphs">衡性破坏的节点，要对其进</text>
 <text class="cn" x="1033.4" y="1276" textLength="119" lengthAdjust="spacingAndGlyphs">行旋转处理</text>
 <text class="cn" x="37" y="1642" textLength="204.5" lengthAdjust="spacingAndGlyphs">以subR进行右单旋，</text>
 <text class="cn" x="37" y="1671" textLength="165.7" lengthAdjust="spacingAndGlyphs">形成右边一边高</text>
 <text class="cn" x="641" y="1668.5" textLength="217.7" lengthAdjust="spacingAndGlyphs">以parent进行左单旋</text>
 <text class="cn" x="1240.3" y="1699.5" textLength="138.7" lengthAdjust="spacingAndGlyphs">更新平衡因子</text>

 <text class="cn" x="533.7" y="2257" textLength="93.6" lengthAdjust="spacingAndGlyphs">插入节点</text>
 <text class="cn" x="1048.3" y="2198" textLength="277.3" lengthAdjust="spacingAndGlyphs">更新节点，遇到使AVL树平</text>
 <text class="cn" x="1048.3" y="2226.5" textLength="286" lengthAdjust="spacingAndGlyphs">衡性破坏的节点，要对其进</text>
 <text class="cn" x="1048.3" y="2255" textLength="118" lengthAdjust="spacingAndGlyphs">行旋转处理</text>
 <text class="cn" x="74.5" y="2656" textLength="202.8" lengthAdjust="spacingAndGlyphs">以subR进行右单旋，</text>
 <text class="cn" x="72.7" y="2684" textLength="165.8" lengthAdjust="spacingAndGlyphs">形成右边一边高</text>
 <text class="cn" x="614.2" y="2696" textLength="217.6" lengthAdjust="spacingAndGlyphs">以parent进行左单旋</text>
 <text class="cn" x="1252.8" y="2707.5" textLength="141.2" lengthAdjust="spacingAndGlyphs">更新平衡因子</text>

 <text class="wm" x="1779" y="3071" textLength="74" lengthAdjust="spacingAndGlyphs">CSDN @langk_</text>
</g>
</svg>
